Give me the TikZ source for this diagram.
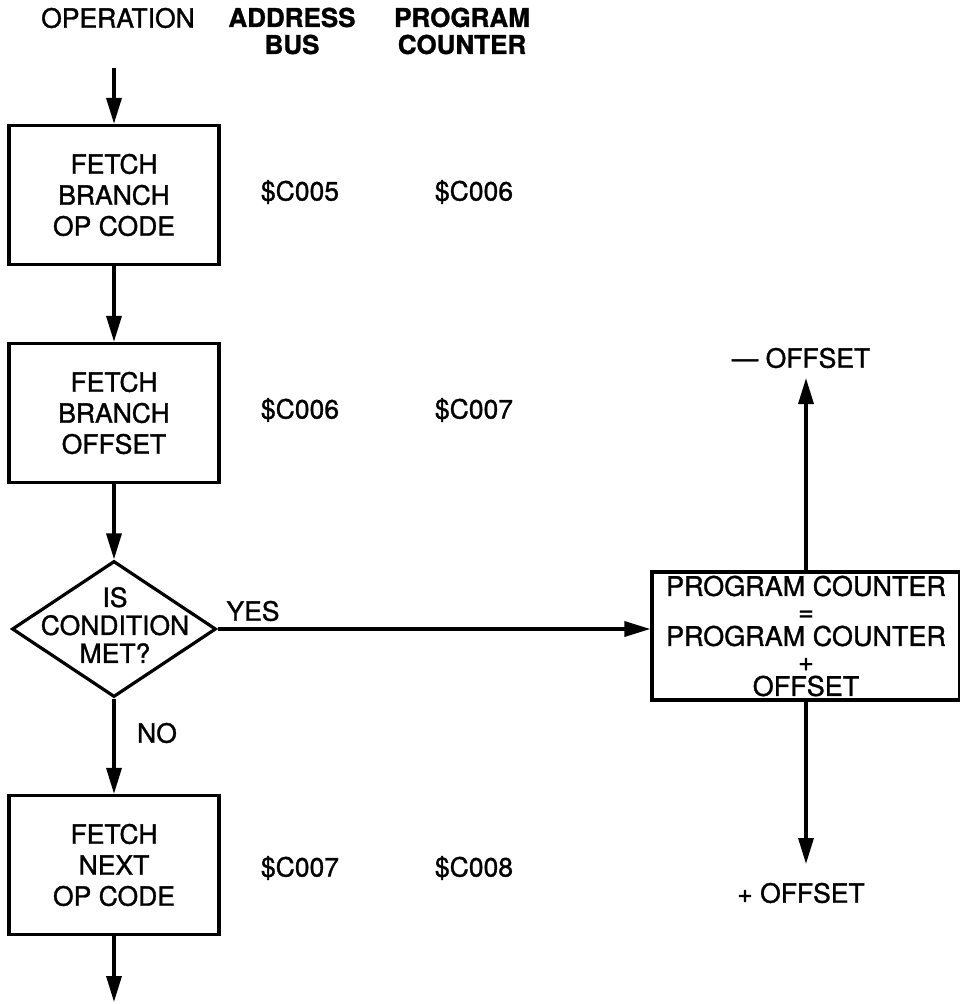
\documentclass[tikz,border=0pt]{standalone}
\usepackage{fontspec}
\setmainfont{TeX Gyre Heros}[FakeBold=1.2]
\usetikzlibrary{arrows.meta,shapes.geometric}
\begin{document}
\begin{tikzpicture}[x=1pt,y=-1pt,
  every node/.style={font=\fontsize{26.5}{31}\selectfont},
  opbox/.style={draw,line width=3.2pt,minimum width=210pt,minimum height=139pt,align=center,inner sep=0pt},
  hdr/.style={font=\fontsize{26}{27}\selectfont\bfseries,align=center},
  flow/.style={line width=3.4pt,-{Triangle[length=26pt,width=15pt]}}]
\useasboundingbox (0,0) rectangle (960,1004);
% headers
\node (hop) at (118,18) {OPERATION};
\node[hdr] (hab) at (292,31) {ADDRESS\\BUS};
\node[hdr] (hpc) at (462,31) {PROGRAM\\COUNTER};
% boxes
\coordinate (start) at (114,68);
\node[opbox] (b1) at (114,195) {FETCH\\BRANCH\\OP CODE};
\node[opbox] (b2) at (114,413) {FETCH\\BRANCH\\OFFSET};
\node[diamond,draw,line width=3.2pt,minimum width=204pt,minimum height=136pt,inner sep=0pt] (d) at (114,629) {};
\node[align=center,font=\fontsize{26.5}{28}\selectfont] (dt) at (115,625) {IS\\CONDITION\\MET?};
\node[opbox] (b4) at (114,865) {FETCH\\NEXT\\OP CODE};
\coordinate (end) at (114,1002);
\node[draw,line width=3.2pt,minimum width=308pt,minimum height=128pt,align=center,inner sep=0pt,font=\fontsize{27}{25}\selectfont] (pc) at (806,636)
  {PROGRAM\ COUNTER\\=\\PROGRAM COUNTER\\+\\OFFSET};
\coordinate (up) at (806,378);
\coordinate (dn) at (806,864);
\node (moff) at (801,358) {--- OFFSET};
\node (poff) at (801,893) {+ OFFSET};
% values
\node (a1) at (300,192) {\$C005};
\node (p1) at (474,192) {\$C006};
\node (a2) at (300,410) {\$C006};
\node (p2) at (474,410) {\$C007};
\node (a4) at (300,868) {\$C007};
\node (p4) at (474,868) {\$C008};
% labels
\node (yes) at (253,611) {YES};
\node (no) at (157,733) {NO};
% arrows
\draw[flow] (start) -- (b1.north);
\draw[flow] (b1.south) -- (b2.north);
\draw[flow] (b2.south) -- (d.north);
\draw[flow] (d.south) -- (b4.north);
\draw[flow] (b4.south) -- (end);
\draw[flow] (d.east) -- (d.east -| pc.west);
\draw[flow] (pc.north) -- (up);
\draw[flow] (pc.south) -- (dn);
\end{tikzpicture}
\end{document}
